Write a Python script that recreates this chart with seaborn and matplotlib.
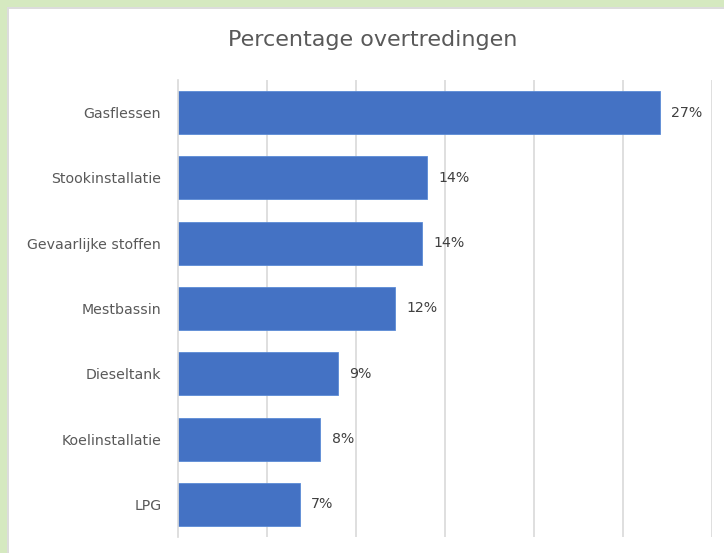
import matplotlib
matplotlib.use("Agg")
import matplotlib.pyplot as plt
import seaborn as sns
import pandas as pd
from matplotlib.patches import Rectangle

# data
categories = ["Gasflessen", "Stookinstallatie", "Gevaarlijke stoffen", "Mestbassin",
              "Dieseltank", "Koelinstallatie", "LPG"]
percentages = [27.1, 14.0, 13.7, 12.2, 9.0, 8.0, 6.85]
value_labels = ["27%", "14%", "14%", "12%", "9%", "8%", "7%"]
grid_ticks = [5, 10, 15, 20, 25, 30]

df = pd.DataFrame({"categorie": categories, "percentage": percentages})

sns.set_style("white")
plt.rcParams["font.family"] = ["DejaVu Sans"]

fig = plt.figure(figsize=(7.24, 5.53), dpi=100)
fig.patch.set_facecolor("#D5E9C0")
# white chart area with a thin grey edge (Excel-look)
fig.patches.append(Rectangle((7 / 724, -0.1), 1.2, 1 - 7 / 553 + 0.1, transform=fig.transFigure,
                             facecolor="#DCDCDC", edgecolor="none", zorder=0))
fig.patches.append(Rectangle((9 / 724, -0.1), 1.2, 1 - 9 / 553 + 0.1, transform=fig.transFigure,
                             facecolor="white", edgecolor="none", zorder=0))

ax = fig.add_axes([178 / 724, 1 - 537 / 553, (712 - 178) / 724, (537 - 80) / 553])
ax.set_zorder(2)
ax.patch.set_alpha(0)

sns.barplot(data=df, x="percentage", y="categorie", order=categories, orient="h",
            color="#4472C4", width=0.66, saturation=1, edgecolor="#5B8BD6", linewidth=0.6, ax=ax)

ax.set_xlim(0, 30)
ax.set_ylim(6.5, -0.5)
ax.set_xticks(grid_ticks)
ax.set_xticklabels([])
ax.xaxis.grid(True, color="#D9D9D9", linewidth=1.2)
ax.set_axisbelow(True)
ax.tick_params(axis="both", length=0)
ax.tick_params(axis="y", pad=12, labelsize=10.2, labelcolor="#595959")
ax.set_xlabel("")
ax.set_ylabel("")
for side in ["top", "right", "bottom"]:
    ax.spines[side].set_visible(False)
ax.spines["left"].set_color("#D9D9D9")
ax.spines["left"].set_linewidth(1.2)

for i, (v, lab) in enumerate(zip(percentages, value_labels)):
    ax.annotate(lab, xy=(v, i), xytext=(8, 0), textcoords="offset points",
                va="center", ha="left", fontsize=10.2, color="#404040")

fig.text(373 / 724, 1 - 40 / 553, "Percentage overtredingen", ha="center", va="center",
         fontsize=16, color="#595959", zorder=3)

fig.savefig("out.png", dpi=100, facecolor=fig.get_facecolor())
